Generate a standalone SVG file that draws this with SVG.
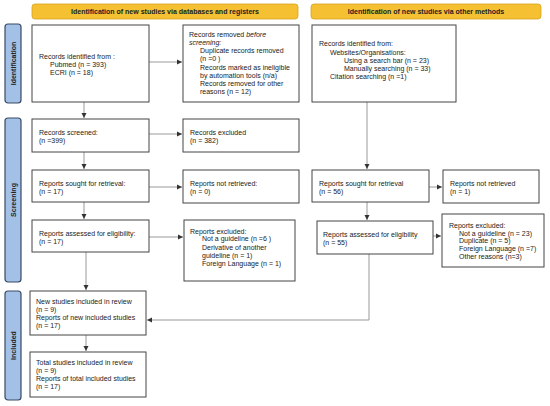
<svg xmlns="http://www.w3.org/2000/svg" width="550" height="406" viewBox="0 0 550 406">
<style>
text{font-family:"Liberation Sans",Arial,sans-serif;font-size:7px;fill:#222}
.b{font-weight:bold;text-anchor:middle}
.box{fill:#fff;stroke:#444;stroke-width:1}
.ban{fill:#F5C031;stroke:#D9A21E;stroke-width:0.8}
.side{fill:#A3C1E6;stroke:#3A4A66;stroke-width:1.2}
.c{fill:none;stroke:#999;stroke-width:1}
</style>
<defs>
<marker id="ah" markerWidth="6" markerHeight="6" refX="5" refY="3" orient="auto" markerUnits="userSpaceOnUse">
<path d="M0,0.5 L5,3 L0,5.5 Z" fill="#333"/>
</marker>
</defs>
<g id="banner-left"><rect class="ban" x="32" y="4" width="266" height="15" rx="3"/><text class="b" x="165" y="14.3">Identification of new studies via databases and registers</text></g>
<g id="banner-right"><rect class="ban" x="311" y="4" width="230" height="15" rx="3"/><text class="b" x="426" y="14.3">Identification of new studies via other methods</text></g>
<g id="side-identification"><rect class="side" x="5" y="24" width="16" height="79" rx="3"/><text class="b" transform="translate(15.5,63.5) rotate(-90)">Identification</text></g>
<g id="side-screening"><rect class="side" x="5" y="118" width="16" height="164" rx="3"/><text class="b" transform="translate(15.5,200) rotate(-90)">Screening</text></g>
<g id="side-included"><rect class="side" x="5" y="291" width="16" height="109" rx="3"/><text class="b" transform="translate(15.5,345.5) rotate(-90)">Included</text></g>

<g id="connectors">
<line class="c" x1="84" y1="102" x2="84" y2="118" marker-end="url(#ah)"/>
<line class="c" x1="84" y1="152" x2="84" y2="169" marker-end="url(#ah)"/>
<line class="c" x1="84" y1="202" x2="84" y2="219" marker-end="url(#ah)"/>
<line class="c" x1="86" y1="252" x2="86" y2="290" marker-end="url(#ah)"/>
<line class="c" x1="86" y1="335" x2="86" y2="351" marker-end="url(#ah)"/>
<line class="c" x1="149" y1="62" x2="182" y2="62" marker-end="url(#ah)"/>
<line class="c" x1="149" y1="134" x2="182" y2="134" marker-end="url(#ah)"/>
<line class="c" x1="149" y1="187" x2="182" y2="187" marker-end="url(#ah)"/>
<line class="c" x1="149" y1="237" x2="183" y2="237" marker-end="url(#ah)"/>
<line class="c" x1="367" y1="102" x2="367" y2="169" marker-end="url(#ah)"/>
<line class="c" x1="367" y1="202" x2="367" y2="220" marker-end="url(#ah)"/>
<line class="c" x1="429" y1="187" x2="442" y2="187" marker-end="url(#ah)"/>
<line class="c" x1="433" y1="236" x2="441" y2="236" marker-end="url(#ah)"/>
<polyline class="c" points="369,254 369,320 147,320" marker-end="url(#ah)"/>
</g>

<g id="records-identified"><rect class="box" x="32" y="25" width="117" height="77"/>
<text x="39" y="58.5">Records identified from :</text>
<text x="50" y="66.5">Pubmed (n = 393)</text>
<text x="50" y="74.5">ECRI (n = 18)</text></g>
<g id="records-removed"><rect class="box" x="183" y="25" width="116" height="77"/>
<text x="189" y="36.8">Records removed <tspan font-style="italic">before</tspan></text>
<text x="189" y="45" font-style="italic">screening:</text>
<text x="200" y="53.2">Duplicate records removed</text>
<text x="200" y="61.4">(n =0 )</text>
<text x="200" y="69.6">Records marked as ineligible</text>
<text x="200" y="77.8">by automation tools (n/a)</text>
<text x="200" y="86">Records removed for other</text>
<text x="200" y="94.2">reasons (n = 12)</text></g>
<g id="other-identified"><rect class="box" x="312" y="25" width="144" height="77"/>
<text x="319" y="45.5">Records identified from:</text>
<text x="330" y="54.5">Websites/Organisations:</text>
<text x="344" y="62.5">Using a search bar (n = 23)</text>
<text x="344" y="70.5">Manually searching (n = 33)</text>
<text x="330" y="78.5">Citation searching (n =1)</text></g>

<g id="records-screened"><rect class="box" x="32" y="119" width="117" height="33"/>
<text x="39" y="134.5">Records screened:</text><text x="39" y="142.5">(n =399)</text></g>
<g id="records-excluded"><rect class="box" x="183" y="119" width="116" height="33"/>
<text x="190" y="134.5">Records excluded</text><text x="190" y="142.5">(n = 382)</text></g>
<g id="reports-sought"><rect class="box" x="32" y="170" width="117" height="32"/>
<text x="39" y="185.5">Reports sought for retrieval:</text><text x="39" y="193.5">(n = 17)</text></g>
<g id="reports-not-retrieved"><rect class="box" x="183" y="170" width="116" height="33"/>
<text x="190" y="185.5">Reports not retrieved:</text><text x="190" y="193.5">(n = 0)</text></g>
<g id="reports-assessed"><rect class="box" x="32" y="220" width="117" height="32"/>
<text x="39" y="235.5">Reports assessed for eligibility:</text><text x="39" y="243.5">(n = 17)</text></g>
<g id="reports-excluded"><rect class="box" x="184" y="220" width="111" height="61"/>
<text x="190" y="233.5">Reports excluded:</text>
<text x="202" y="241.3">Not a guideline (n =6 )</text>
<text x="202" y="249.5">Derivative of another</text>
<text x="202" y="257.5">guideline (n = 1)</text>
<text x="202" y="265.5">Foreign Language (n = 1)</text></g>

<g id="other-sought"><rect class="box" x="312" y="170" width="117" height="32"/>
<text x="319" y="185.5">Reports sought for retrieval</text><text x="319" y="193.5">(n = 56)</text></g>
<g id="other-not-retrieved"><rect class="box" x="443" y="170" width="96" height="33"/>
<text x="450" y="185.5">Reports not retrieved</text><text x="450" y="193.5">(n = 1)</text></g>
<g id="other-assessed"><rect class="box" x="317" y="221" width="116" height="33"/>
<text x="323" y="236.5">Reports assessed for eligibility</text><text x="323" y="244.5">(n = 55)</text></g>
<g id="other-excluded"><rect class="box" x="442" y="214" width="102" height="53"/>
<text x="449" y="227.5">Reports excluded:</text>
<text x="459" y="235.5">Not a guideline (n = 23)</text>
<text x="459" y="243">Duplicate (n = 5)</text>
<text x="459" y="251.3">Foreign Language (n =7)</text>
<text x="459" y="259.3">Other reasons (n=3)</text></g>

<g id="new-included"><rect class="box" x="30" y="291" width="116" height="44"/>
<text x="36" y="303.5">New studies included in review</text>
<text x="36" y="311.5">(n = 9)</text>
<text x="36" y="319.5">Reports of new included studies</text>
<text x="36" y="328">(n = 17)</text></g>
<g id="total-included"><rect class="box" x="30" y="352" width="116" height="45"/>
<text x="36" y="364.5">Total studies included in review</text>
<text x="36" y="372.5">(n = 9)</text>
<text x="36" y="380.5">Reports of total included studies</text>
<text x="36" y="389">(n = 17)</text></g>
</svg>
